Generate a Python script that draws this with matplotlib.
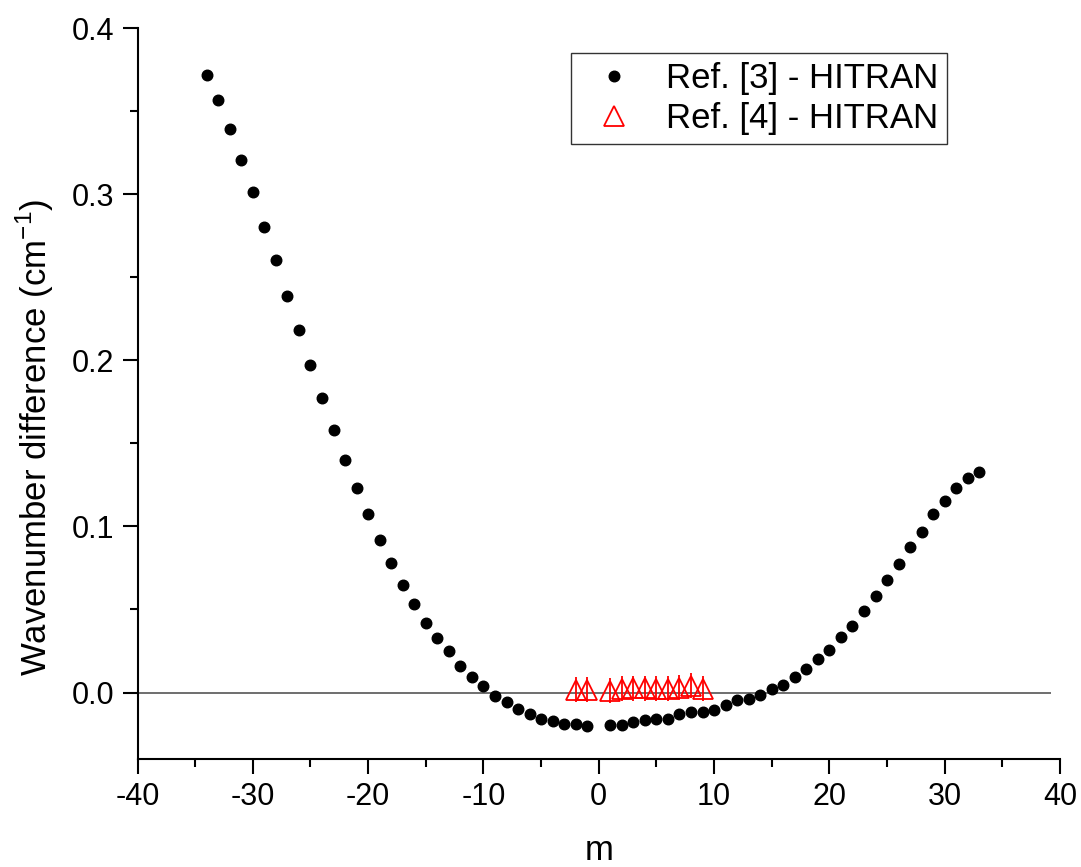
import matplotlib
matplotlib.use("Agg")
import matplotlib.pyplot as plt
from matplotlib.ticker import MultipleLocator

plt.rcParams['font.family'] = ['Liberation Sans', 'DejaVu Sans']
plt.rcParams['axes.unicode_minus'] = False

# Ref. [3] - HITRAN
m_ref3 = list(range(-34, 0)) + list(range(1, 34))
diff_ref3 = [0.372, 0.3566, 0.3394, 0.3205, 0.3012, 0.2803, 0.2601, 0.2388,
             0.2183, 0.197, 0.1771, 0.1578, 0.140, 0.1229, 0.1075, 0.0916,
             0.0781, 0.0647, 0.0533, 0.042, 0.0331, 0.0249, 0.0161, 0.0096,
             0.0039, -0.002, -0.006, -0.010, -0.0128, -0.0157, -0.017, -0.0189,
             -0.019, -0.0199,
             -0.0193, -0.0193, -0.0177, -0.0167, -0.0157, -0.0157, -0.0132, -0.012,
             -0.0117, -0.0104, -0.0075, -0.0048, -0.0038, -0.0012, 0.0022, 0.0048,
             0.0095, 0.0141, 0.0203, 0.0253, 0.0336, 0.040, 0.0488, 0.0584,
             0.0675, 0.0771, 0.0873, 0.0964, 0.1072, 0.1153, 0.1231, 0.1289,
             0.133]

# Ref. [4] - HITRAN
m_ref4 = [-2, -1, 1, 2, 3, 4, 5, 6, 7, 8, 9]
diff_ref4 = [0.0016, 0.0016, 0.0012, 0.0022, 0.0026, 0.0026, 0.0022, 0.0022,
             0.003, 0.0042, 0.0022]
err_ref4 = [0.0075] * len(m_ref4)

fig = plt.figure(figsize=(10.81, 8.67), dpi=100)
ax = fig.add_axes([0.1272, 0.1246, 0.8534, 0.8431])

ax.hlines(0, -40, 39.2, color='#555555', lw=1.2, zorder=1)

ax.plot(m_ref3, diff_ref3, 'o', color='black', ms=7.6, ls='none',
        label='Ref. [3] - HITRAN', zorder=3)
ax.errorbar(m_ref4, diff_ref4, yerr=err_ref4, fmt='^', mfc='none', mec='red',
            ecolor='red', ms=14, mew=1.3, elinewidth=1.3, capsize=0,
            label='Ref. [4] - HITRAN', zorder=4)

ax.set_xlim(-40, 40)
ax.set_ylim(-0.04, 0.4)
ax.xaxis.set_major_locator(MultipleLocator(10))
ax.xaxis.set_minor_locator(MultipleLocator(5))
ax.yaxis.set_major_locator(MultipleLocator(0.1))
ax.yaxis.set_minor_locator(MultipleLocator(0.05))
ax.set_yticks([0.0, 0.1, 0.2, 0.3, 0.4])
ax.set_yticklabels(['0.0', '0.1', '0.2', '0.3', '0.4'])

for side in ['top', 'right']:
    ax.spines[side].set_visible(False)
for side in ['left', 'bottom']:
    ax.spines[side].set_linewidth(1.5)

ax.tick_params(which='major', direction='out', length=10.5, width=1.5,
               labelsize=22, pad=6)
ax.tick_params(which='minor', direction='out', length=5.5, width=1.5)

ax.set_xlabel('m', fontsize=25, labelpad=16)
ax.set_ylabel(r'Wavenumber difference (cm$^{\mathregular{-1}}$)', fontsize=25)
ax.yaxis.set_label_coords(-0.088, 0.44)

handles, labels = ax.get_legend_handles_labels()
h4 = handles[1][0] if hasattr(handles[1], '__getitem__') else handles[1]
leg = ax.legend([handles[0], h4], labels, loc='upper left',
                bbox_to_anchor=(0.4696, 0.9655), fontsize=25, frameon=True,
                fancybox=False, edgecolor='black', borderpad=0.25,
                handletextpad=0.5, labelspacing=0.2, handlelength=2.0,
                borderaxespad=0)
leg.get_frame().set_linewidth(1.0)

fig.savefig('out.png', dpi=100)
